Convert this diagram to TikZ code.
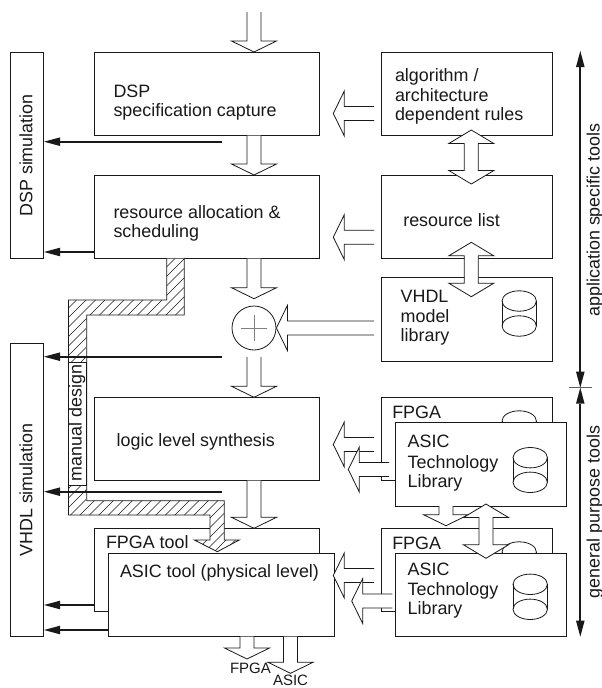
\documentclass[tikz,border=0pt]{standalone}
\usepackage{fontspec}
\setmainfont{Liberation Sans}
\usetikzlibrary{calc}
\definecolor{ink}{gray}{0.1}
\tikzset{
  x=1pt,y=-1pt,
  box/.style={draw=ink,line width=1pt,fill=white,inner sep=0pt,outer sep=0pt,anchor=north west},
  lab/.style={anchor=base west,inner sep=0pt,outer sep=0pt,text=ink,font=\fontsize{17.9}{20}\selectfont},
  rotlab/.style={rotate=90,anchor=center,inner sep=0pt,outer sep=0pt,text=ink,font=\fontsize{17.9}{20}\selectfont},
  small/.style={anchor=base west,inner sep=0pt,outer sep=0pt,text=ink,font=\fontsize{15}{17}\selectfont},
  hollowline/.style={draw=ink,line width=0.8pt,fill=white,line join=miter},
  solidarrow/.style={draw=ink,line width=1.8pt},
  solidhead/.style={fill=ink,draw=none},
}
\newcommand{\boxat}[5]{\node[box,minimum width=#4pt,minimum height=#5pt] (#1) at (#2,#3) {};}
% hollow arrow from coordinate #1 to tip coordinate #2
\newcommand{\hollow}[2]{%
  \coordinate (hb) at ($(#2)!11pt!(#1)$);
  \draw[hollowline] ($(#1)!7pt!90:(#2)$) -- ($(hb)!7pt!90:(#2)$) -- ($(hb)!22.5pt!90:(#2)$) -- (#2)
     -- ($(hb)!22.5pt!-90:(#2)$) -- ($(hb)!7pt!-90:(#2)$) -- ($(#1)!7pt!-90:(#2)$);
}
% double hollow arrow between tips
\newcommand{\hollowboth}[2]{%
  \coordinate (ha) at ($(#1)!13.5pt!(#2)$);
  \coordinate (hb) at ($(#2)!13.5pt!(#1)$);
  \draw[hollowline] (#1) -- ($(ha)!22.5pt!90:(#2)$) -- ($(ha)!7pt!90:(#2)$) -- ($(hb)!7pt!-90:(#1)$)
     -- ($(hb)!22.5pt!-90:(#1)$) -- (#2) -- ($(hb)!22.5pt!90:(#1)$) -- ($(hb)!7pt!90:(#1)$)
     -- ($(ha)!7pt!-90:(#2)$) -- ($(ha)!22.5pt!-90:(#2)$) -- cycle;
}
% solid arrow
\newcommand{\solid}[2]{%
  \coordinate (hb) at ($(#2)!16pt!(#1)$);
  \draw[solidarrow] (#1) -- (hb);
  \fill[solidhead] (#2) -- ($(hb)!4.3pt!90:(#2)$) -- ($(hb)!4.3pt!-90:(#2)$) -- cycle;
}
\newcommand{\cyl}[3]{% x centre, top y, lower y
  \draw[draw=ink,line width=0.8pt] (#1-17.2,#2) -- (#1-17.2,#3) (#1+17.2,#2) -- (#1+17.2,#3);
  \draw[draw=ink,line width=0.8pt] (#1,#2) ellipse[x radius=17.2pt,y radius=10.2pt];
  \draw[draw=ink,line width=0.8pt] (#1,#3) ellipse[x radius=17.2pt,y radius=10.2pt];
}
\begin{document}
\begin{tikzpicture}
\useasboundingbox (0,0) rectangle (602,688);
% simulation boxes
\boxat{dspsim}{10.5}{52}{33}{206.5}
\boxat{vhdlsim}{10.5}{343}{33}{293.7}
\node[rotlab] (dspsimt) at (26,155.5) {DSP simulation};
\node[rotlab] (vhdlsimt) at (26,490) {VHDL simulation};
% main column
\boxat{spec}{94}{52}{225.3}{83.5}
\boxat{alloc}{94}{175}{225.3}{83.5}
\boxat{logic}{94}{397.3}{225.3}{83.4}
\boxat{fpgatool}{94}{528.3}{225.3}{83.4}
% right column
\boxat{rules}{381}{52}{171}{83.5}
\boxat{reslist}{381}{175}{171}{83.5}
\boxat{model}{381}{277}{171}{84}
\boxat{fpgalib}{381}{397.3}{171}{83.4}
\boxat{fpgalibb}{381}{528.3}{171}{83.4}
\cyl{519.2}{301}{326}
\cyl{519.2}{421}{446}
\cyl{519.2}{552}{577}
% hollow vertical arrows
\coordinate (t0) at (254,12);
\coordinate (t1) at (254,52);
\hollow{t0}{t1}
\coordinate (a1) at (254,135.5); \coordinate (a2) at (254,175);
\hollow{a1}{a2}
\coordinate (a3) at (254,258.5); \coordinate (a4) at (254,298.7);
\hollow{a3}{a4}
\node[draw=ink,line width=0.8pt,circle,minimum size=44pt,inner sep=0pt,fill=white] (sum) at (254,328) {};
\coordinate (p1) at (240.7,328); \coordinate (p2) at (267.3,328);
\coordinate (p3) at (254,314.7); \coordinate (p4) at (254,341.3);
\draw[gray,line width=0.8pt] (p1) -- (p2) (p3) -- (p4);
\coordinate (a5) at (254,357); \coordinate (a6) at (254,397.3);
\hollow{a5}{a6}
\coordinate (a7) at (254,480.7); \coordinate (a8) at (254,528.3);
\hollow{a7}{a8}
% hatched manual design path
\begin{scope}
\path[draw=ink,line width=0.8pt,fill=white] (166.7,258.5) -- (166.7,300) -- (68.5,300) -- (68.5,515) -- (210,515) -- (210,540) -- (194.3,540) -- (217.3,551.7) -- (239.3,540) -- (224.3,540) -- (224.3,500.7) -- (86.7,500.7) -- (86.7,315) -- (184.3,315) -- (184.3,258.5);
\clip (166.7,258.5) -- (166.7,300) -- (68.5,300) -- (68.5,515) -- (210,515) -- (210,540) -- (194.3,540) -- (217.3,551.7) -- (239.3,540) -- (224.3,540) -- (224.3,500.7) -- (86.7,500.7) -- (86.7,315) -- (184.3,315) -- (184.3,258.5) -- cycle;
\foreach \k in {0,...,90} { \draw[ink,line width=0.6pt] (-250+9.5*\k,560) -- (60+9.5*\k,250); }
\end{scope}
\boxat{manualbox}{68.5}{362.3}{18.2}{123.4}
\node[rotlab] (manual) at (77,423) {manual design};
% ASIC tool box above
\boxat{asictool}{108.7}{553.3}{225.3}{83.4}
% left hollow arrows
\coordinate (l1) at (374,113.5); \coordinate (l1t) at (333.3,113.5); \hollow{l1}{l1t}
\coordinate (l2) at (374,237.2); \coordinate (l2t) at (333.3,237.2); \hollow{l2}{l2t}
\coordinate (l3) at (374,328); \hollow{l3}{sum.east}
\coordinate (l4) at (374,444.5); \coordinate (l4t) at (333.3,444.5); \hollow{l4}{l4t}
\coordinate (l6) at (374,575.5); \coordinate (l6t) at (333.3,575.5); \hollow{l6}{l6t}
% ASIC libraries
\boxat{asiclib}{395.5}{422.3}{171}{83.7}
\boxat{asiclibb}{395.5}{553.3}{171}{83.4}
\cyl{530.2}{457.7}{482.3}
\cyl{530.2}{584.3}{609.3}
\coordinate (l5) at (389,469.5); \coordinate (l5t) at (348.3,469.5); \hollow{l5}{l5t}
\coordinate (l7) at (392.3,601); \coordinate (l7t) at (351.7,601); \hollow{l7}{l7t}
% vertical hollow between libs
\coordinate (v1) at (446,506); \coordinate (v1t) at (446,525.7); \hollow{v1}{v1t}
% double arrows
\coordinate (d1) at (471.3,130); \coordinate (d2) at (471.3,184); \hollowboth{d1}{d2}
\coordinate (d3) at (471.3,242.3); \coordinate (d4) at (471.3,296.7); \hollowboth{d3}{d4}
\coordinate (d5) at (486,504); \coordinate (d6) at (486,558.3); \hollowboth{d5}{d6}
% bottom arrows
\coordinate (b1) at (247,636.7); \coordinate (b1t) at (247,659); \hollow{b1}{b1t}
\coordinate (b2) at (290.5,636.7); \coordinate (b2t) at (290.5,673.3); \hollow{b2}{b2t}
% solid arrows
\coordinate (s1) at (222,141.7); \coordinate (s1t) at (44,141.7); \solid{s1}{s1t}
\coordinate (s2) at (94,252); \coordinate (s2t) at (44,252); \solid{s2}{s2t}
\coordinate (s3) at (222,356.7); \coordinate (s3t) at (44,356.7); \solid{s3}{s3t}
\coordinate (s4) at (222,491.7); \coordinate (s4t) at (44,491.7); \solid{s4}{s4t}
\coordinate (s5) at (94,605); \coordinate (s5t) at (44,605); \solid{s5}{s5t}
\coordinate (s6) at (108.7,630); \coordinate (s6t) at (44,630); \solid{s6}{s6t}
% range arrows
\coordinate (r0) at (580.3,51); \coordinate (rm) at (580.3,387.7); \coordinate (r1) at (580.3,636.7);
\coordinate (rmid) at (580.3,220);\coordinate (rmid2) at (580.3,512);
\solid{rmid}{r0}\solid{rmid}{rm}\solid{rmid2}{rm}\solid{rmid2}{r1}
\coordinate (tick1) at (569.3,387.7); \coordinate (tick2) at (591.7,387.7);
\draw[ink!70,line width=1pt] (tick1) -- (tick2);
\node[rotlab] (apptools) at (595,220) {application specific tools};
\node[rotlab] (gentools) at (595,512) {general purpose tools};
% labels
\node[lab] (t1a) at (113.5,97.7) {DSP};
\node[lab] (t1b) at (113.5,116.7) {specification capture};
\node[lab] (t2a) at (113.5,218.3) {resource allocation \&};
\node[lab] (t2b) at (113.5,237.3) {scheduling};
\node[lab] (t3a) at (395,81) {algorithm /};
\node[lab] (t3b) at (395,101) {architecture};
\node[lab] (t3c) at (395,120) {dependent rules};
\node[lab] (t4) at (403.3,226.7) {resource list};
\node[lab] (t5a) at (400.7,302.7) {VHDL};
\node[lab] (t5b) at (400.7,322) {model};
\node[lab] (t5c) at (400.7,341.7) {library};
\node[lab] (t6) at (116.7,446.7) {logic level synthesis};
\node[lab] (t7) at (106,548.3) {FPGA tool};
\node[lab] (t8) at (120,577.3) {ASIC tool (physical level)};
\node[lab] (t9) at (392.3,418.3) {FPGA};
\node[lab] (t10a) at (407.7,447.7) {ASIC};
\node[lab] (t10b) at (407.7,468.3) {Technology};
\node[lab] (t10c) at (407.7,487.3) {Library};
\node[lab] (t11) at (392.3,549.3) {FPGA};
\node[lab] (t12a) at (407.7,575.7) {ASIC};
\node[lab] (t12b) at (407.7,595) {Technology};
\node[lab] (t12c) at (407.7,614) {Library};
\node[small] (t13) at (230,673.5) {FPGA};
\node[small] (t14) at (273,685) {ASIC};
\end{tikzpicture}
\end{document}
